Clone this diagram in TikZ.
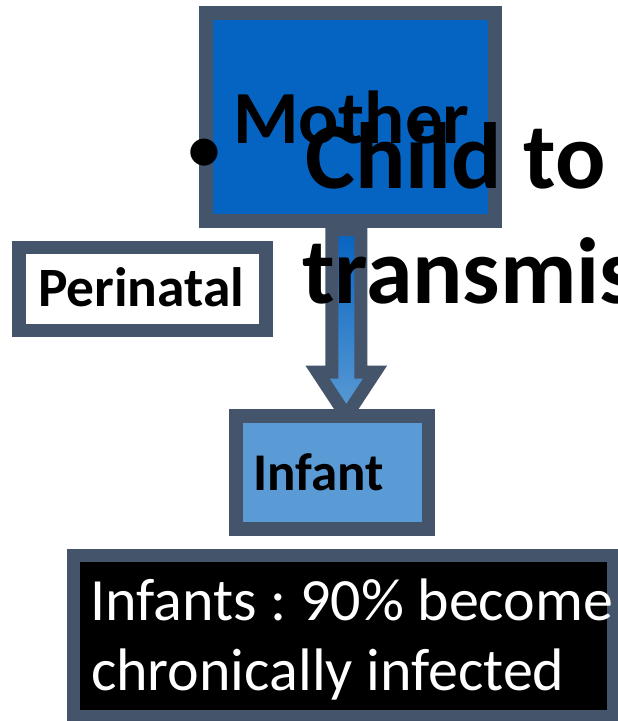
\documentclass[tikz,border=0pt]{standalone}
\usepackage{fontspec}
\setmainfont{Carlito}
\usetikzlibrary{calc}
\frenchspacing
\definecolor{bordergray}{HTML}{44546A}
\definecolor{darkblue}{HTML}{0563C1}
\definecolor{lightblue}{HTML}{5B9BD5}
\tikzset{
  boxshape/.style={rectangle, draw=bordergray, line width=13.5pt, inner sep=0pt, outer sep=0pt},
  lbl/.style={anchor=base west, inner sep=0pt, outer sep=0pt},
}
\begin{document}
\frenchspacing
\begin{tikzpicture}[x=1pt,y=-1pt]
\useasboundingbox (0,0) rectangle (618,721);
% Mother box
\node[boxshape, fill=darkblue, minimum width=288.8pt, minimum height=208.4pt] (mother) at (350.6,117) {};
% block arrow
\coordinate (atop) at (346.3,229.5);
\coordinate (atip) at (346.3,415.8);
\draw[draw=bordergray, line width=13pt, top color=darkblue, bottom color=lightblue, line join=miter]
  ($(atop)+(-14.5,0)$) -- ($(atop)+(14.5,0)$) -- ($(atip)+(14.5,-43.6)$) -- ($(atip)+(28.7,-43.6)$)
  -- (atip) -- ($(atip)+(-28.7,-43.6)$) -- ($(atip)+(-14.5,-43.6)$) -- cycle;
% texts over box and arrow
\node[lbl, font=\bfseries\fontsize{75}{80}\selectfont] (mothertxt) at (233,143) {Mother};
\node[inner sep=0pt, font=\bfseries\fontsize{64}{70}\selectfont] (bullet) at (204.5,155) {•};
\node[lbl, font=\bfseries\fontsize{94}{110}\selectfont] (title1) at (305.5,188.3) {Child to};
\node[lbl, font=\bfseries\fontsize{94}{110}\selectfont] (title2) at (302,303.3) {transmission};
% Perinatal
\node[boxshape, fill=white, minimum width=247pt, minimum height=83.2pt] (perinatal) at (142.5,289) {};
\node[lbl, font=\bfseries\fontsize{55.5}{66}\selectfont] (perinataltxt) at (38,306) {Perinatal};
% Infant
\node[boxshape, fill=lightblue, minimum width=192.3pt, minimum height=113pt] (infant) at (332.2,472.5) {};
\node[lbl, font=\bfseries\fontsize{53}{62}\selectfont] (infanttxt) at (253.5,490.7) {Infant};
% bottom box
\node[boxshape, fill=black, minimum width=540.1pt, minimum height=160.8pt] (note) at (343.5,636.1) {};
\node[lbl, text=white, font=\fontsize{60}{72}\selectfont] (note1) at (90.5,620) {Infants : 90\% become};
\node[lbl, text=white, font=\fontsize{60}{72}\selectfont] (note2) at (91,690.5) {chronically infected};
\end{tikzpicture}
\end{document}
